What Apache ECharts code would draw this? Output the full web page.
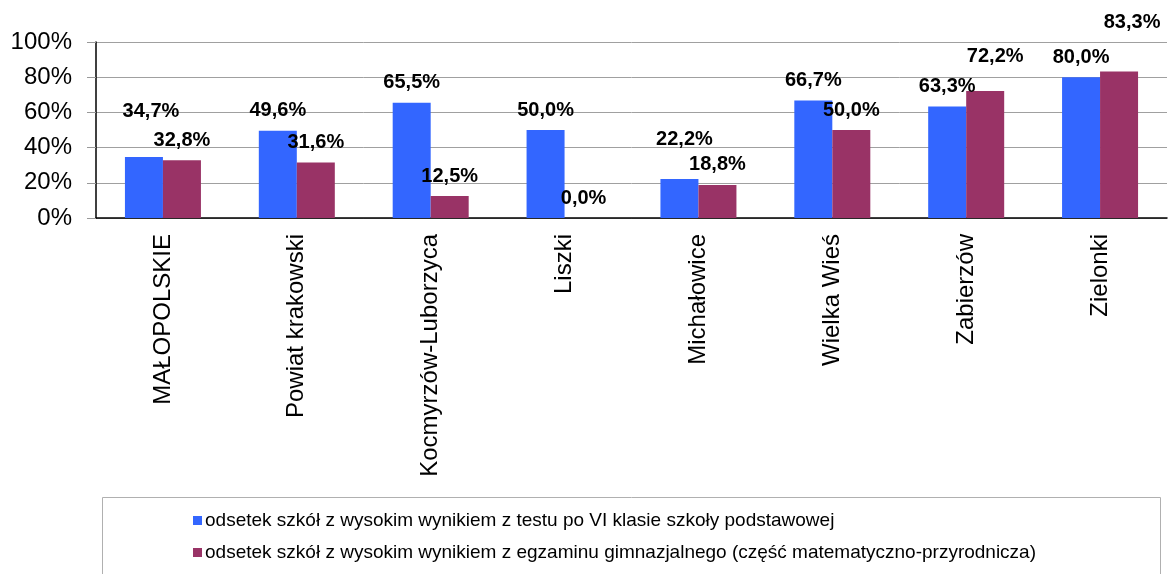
<!DOCTYPE html>
<html>
<head>
<meta charset="utf-8">
<script src="https://cdn.jsdelivr.net/npm/echarts@6/dist/echarts.min.js"></script>
<style>
    html, body { margin: 0; padding: 0; background: #fff; }
    #chart { width: 1169px; height: 574px; }
</style>
</head>
<body>
<div id="chart"></div>
<script>
// dane z wykresu
const categories = ['MAŁOPOLSKIE', 'Powiat krakowski', 'Kocmyrzów-Luborzyca', 'Liszki', 'Michałowice', 'Wielka Wieś', 'Zabierzów', 'Zielonki']
const seriesNames = [
    'odsetek szkół z wysokim wynikiem z testu po VI klasie szkoły podstawowej',
    'odsetek szkół z wysokim wynikiem z egzaminu gimnazjalnego (część matematyczno-przyrodnicza)'
]
const testVI = [34.7, 49.6, 65.5, 50.0, 22.2, 66.7, 63.3, 80.0]
const egzGim = [32.8, 31.6, 12.5, 0.0, 18.8, 50.0, 72.2, 83.3]
const yTicks = [0, 20, 40, 60, 80, 100]

// etykiety przesunięte ręcznie (jak w oryginale)
const labelShift = [
    { 0: [7, -25], 4: [5, -19] },
    { 6: [10, -14], 7: [13, -29] }
]

const colors = ['#3366FF', '#993366']
const font = 'Liberation Sans, Arial, sans-serif'

const fmt = v => v.toFixed(1).replace('.', ',') + '%'

const buildData = (values, s) => values.map((v, i) => {
    const item = { value: v }
    if (labelShift[s][i]) item.label = { offset: labelShift[s][i] }
    return item
})

const makeSeries = (values, s) => ({
    name: seriesNames[s],
    type: 'bar',
    data: buildData(values, s),
    barWidth: 38,
    barGap: '0%',
    itemStyle: { color: colors[s] },
    label: {
        show: true,
        position: 'top',
        distance: 10,
        color: '#000',
        fontWeight: 'bold',
        fontSize: 20,
        fontFamily: font,
        formatter: p => fmt(p.value)
    },
    emphasis: { disabled: true }
})

const chart = echarts.init(document.getElementById('chart'))
chart.setOption({
    animation: false,
    textStyle: { fontFamily: font },
    grid: { left: 96, right: 2, top: 42, bottom: 356 },
    graphic: [{
        type: 'rect',
        left: 102,
        top: 497,
        shape: { width: 1058, height: 100 },
        style: { fill: '#fff', stroke: '#b0b0b0', lineWidth: 1 },
        z: -1
    }],
    legend: {
        orient: 'vertical',
        left: 188,
        top: 506,
        itemWidth: 9,
        itemHeight: 9,
        itemGap: 13,
        icon: 'rect',
        itemStyle: { borderWidth: 0 },
        textStyle: { fontSize: 19, color: '#000', fontFamily: font, padding: [0, 0, 0, -2] },
        data: seriesNames
    },
    xAxis: {
        type: 'category',
        data: categories,
        axisLine: { lineStyle: { color: '#000', width: 1.5 } },
        axisTick: { length: 7, lineStyle: { color: '#999' } },
        axisLabel: {
            rotate: 90,
            margin: 16,
            fontSize: 24,
            color: '#000',
            fontFamily: font
        }
    },
    yAxis: {
        type: 'value',
        min: yTicks[0],
        max: yTicks[yTicks.length - 1],
        interval: yTicks[1] - yTicks[0],
        axisLine: { show: true, lineStyle: { color: '#000', width: 1.5 } },
        axisTick: { show: true, length: 9, lineStyle: { color: '#999' } },
        splitLine: { lineStyle: { color: '#a0a0a0' } },
        axisLabel: {
            formatter: '{value}%',
            fontSize: 24,
            color: '#000',
            margin: 24,
            fontFamily: font
        }
    },
    series: [makeSeries(testVI, 0), makeSeries(egzGim, 1)]
})
</script>
</body>
</html>
